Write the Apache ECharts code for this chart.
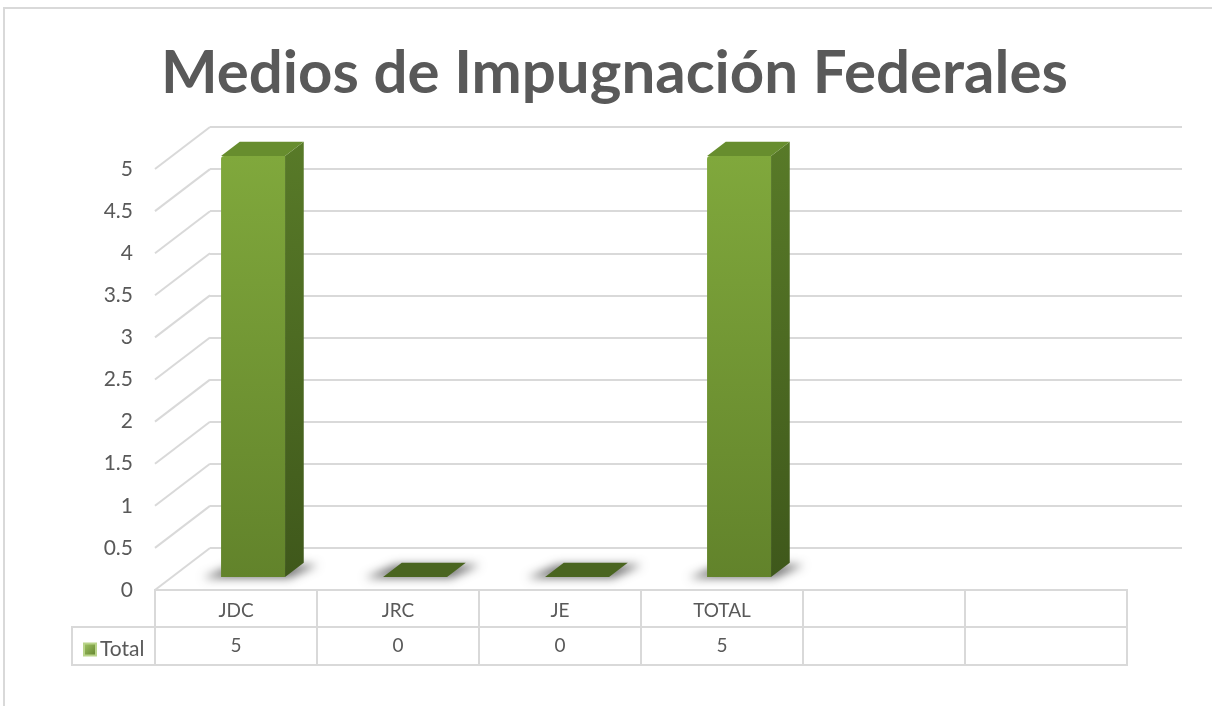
<!DOCTYPE html>
<html>
<head>
<meta charset="utf-8">
<script src="https://cdn.jsdelivr.net/npm/echarts@6/dist/echarts.min.js"></script>
<style>
html,body{margin:0;padding:0;background:#fff;}
#chart{width:1212px;height:706px;}
</style>
</head>
<body>
<div id="chart"></div>
<script>
// ---- data ----
const titleText = 'Medios de Impugnación Federales';
const seriesName = 'Total';
const categories = ['JDC', 'JRC', 'JE', 'TOTAL', '', ''];
const values = [5, 0, 0, 5, null, null];
const tableValues = ['5', '0', '0', '5', '', ''];
const yTicks = [0, 0.5, 1, 1.5, 2, 2.5, 3, 3.5, 4, 4.5, 5];

// ---- style constants ----
const FONT = 'Lato, "Open Sans", sans-serif';
const TXT = '#595959';
const GRID_C = '#d9d9d9';
const DX = 55, DY = 42;        // depth of the 3D box
const F0 = 0.31, F1 = 0.65;    // bar depth range (fraction of box depth)
const BAR_W = 0.395;           // bar width fraction of band
const ROW1 = 37, ROW2 = 38, LEG_W = 83;

const chart = echarts.init(document.getElementById('chart'), null, {renderer: 'canvas'});

function frontGrad() {
  return new echarts.graphic.LinearGradient(0, 0, 0, 1, [
    {offset: 0, color: '#80a83c'}, {offset: 1, color: '#62832b'}]);
}
function sideGrad() {
  return new echarts.graphic.LinearGradient(0, 0, 0, 1, [
    {offset: 0, color: '#587a28'}, {offset: 1, color: '#3f581b'}]);
}

function renderBar(params, api) {
  const i = api.value(0), v = api.value(1);
  const base = api.coord([i, 0]);
  const top = api.coord([i, v]);
  const bw = api.size([1, 0])[0] * BAR_W;
  const ox0 = DX * F0, oy0 = DY * F0;
  const sx = DX * (F1 - F0), sy = DY * (F1 - F0);
  const xl = base[0] - bw / 2 + ox0, xr = xl + bw;
  const yb = base[1] - oy0, yt = top[1] - oy0;
  const children = [];
  const OFF = 4000;
  // soft floor shadow (shape drawn off-canvas, only its blurred shadow shows)
  children.push({
    type: 'polygon',
    shape: {points: [[xl - 18 - OFF, yb + 1], [xl + sx - 6 - OFF, yb - sy + 2], [xr + sx + 14 - OFF, yb - sy + 2], [xr + 4 - OFF, yb + 1]]},
    style: {fill: 'rgba(0,0,0,1)', shadowBlur: 10, shadowColor: 'rgba(0,0,0,0.55)', shadowOffsetX: OFF, shadowOffsetY: 0},
    silent: true
  });
  if (v > 0) {
    children.push({
      type: 'rect',
      shape: {x: xl, y: yt, width: bw, height: yb - yt, r: [3, 0, 0, 0]},
      style: {fill: frontGrad()}
    });
    children.push({
      type: 'polygon',
      shape: {points: [[xr, yt], [xr + sx, yt - sy], [xr + sx, yb - sy], [xr, yb]]},
      style: {fill: sideGrad()}
    });
    children.push({
      type: 'polygon',
      shape: {points: [[xl, yt], [xl + sx, yt - sy], [xr + sx, yt - sy], [xr, yt]]},
      style: {fill: '#678d2e'}
    });
  } else {
    children.push({
      type: 'polygon',
      shape: {points: [[xl, yt], [xl + sx, yt - sy], [xr + sx, yt - sy], [xr, yt]]},
      style: {fill: '#4a6520'}
    });
  }
  return {type: 'group', children: children};
}

function renderSideGrid(params, api) {
  const v = api.value(0);
  const cs = params.coordSys;
  const p = api.coord([0, v]);
  return {
    type: 'line',
    shape: {x1: cs.x, y1: p[1], x2: cs.x + DX, y2: p[1] - DY},
    style: {stroke: GRID_C, lineWidth: 2},
    silent: true
  };
}

function renderTable(params, api) {
  const i = api.value(0);
  const cs = params.coordSys;
  const c = api.coord([i, 0]);
  const band = api.size([1, 0])[0];
  const x0 = c[0] - band / 2;
  const y0 = cs.y + cs.height;
  const children = [
    {type: 'rect', shape: {x: x0, y: y0, width: band, height: ROW1},
      style: {fill: 'none', stroke: GRID_C, lineWidth: 2}},
    {type: 'rect', shape: {x: x0, y: y0 + ROW1, width: band, height: ROW2},
      style: {fill: 'none', stroke: GRID_C, lineWidth: 2}},
    {type: 'text', style: {text: categories[i], x: c[0], y: y0 + ROW1 / 2 + 2,
      align: 'center', verticalAlign: 'middle', fontSize: 19, fontFamily: FONT, fill: TXT}},
    {type: 'text', style: {text: tableValues[i], x: c[0], y: y0 + ROW1 + ROW2 / 2,
      align: 'center', verticalAlign: 'middle', fontSize: 19, fontFamily: FONT, fill: TXT}}
  ];
  if (i === 0) {
    children.push({type: 'rect', shape: {x: cs.x - LEG_W, y: y0 + ROW1, width: LEG_W, height: ROW2},
      style: {fill: 'none', stroke: GRID_C, lineWidth: 2}});
  }
  return {type: 'group', children: children, silent: true};
}

const barData = [];
values.forEach((v, i) => { if (v !== null) barData.push([i, v]); });

const option = {
  backgroundColor: '#ffffff',
  animation: false,
  title: {
    text: titleText, left: 156, top: 39,
    textStyle: {fontSize: 60, fontWeight: 'bold', color: TXT, fontFamily: FONT}
  },
  legend: {
    data: [seriesName], left: 78, top: 634, icon: 'rect', itemWidth: 12, itemHeight: 12,
    itemGap: 4, textStyle: {fontSize: 21, color: TXT, fontFamily: FONT, padding: [0, 0, 0, -1]}
  },
  graphic: [{
    type: 'rect', shape: {x: 4, y: 8, width: 1230, height: 720},
    style: {fill: 'none', stroke: GRID_C, lineWidth: 2}, silent: true, z: -10
  }],
  grid: [
    {left: 155, right: 85, top: 169, bottom: 116},
    {left: 210, right: 30, top: 127, bottom: 158}
  ],
  xAxis: [
    {type: 'category', gridIndex: 0, data: categories, axisLine: {show: false}, axisTick: {show: false}, axisLabel: {show: false}},
    {type: 'category', gridIndex: 1, data: categories, axisLine: {show: false}, axisTick: {show: false}, axisLabel: {show: false}}
  ],
  yAxis: [
    {type: 'value', gridIndex: 0, min: 0, max: 5, interval: 0.5,
      axisLine: {show: false}, axisTick: {show: false}, splitLine: {show: false},
      axisLabel: {fontSize: 21, color: TXT, fontFamily: FONT, margin: 22}},
    {type: 'value', gridIndex: 1, min: 0, max: 5, interval: 0.5,
      axisLine: {show: false}, axisTick: {show: false}, axisLabel: {show: false},
      splitLine: {show: true, lineStyle: {color: GRID_C, width: 2}}}
  ],
  series: [
    {type: 'custom', name: 'sideGrid', xAxisIndex: 0, yAxisIndex: 0, renderItem: renderSideGrid,
      data: yTicks.map(t => [t]), encode: {y: 0}, z: 1, silent: true},
    {type: 'custom', name: seriesName, xAxisIndex: 0, yAxisIndex: 0, renderItem: renderBar,
      data: barData, encode: {x: 0, y: 1}, z: 5,
      itemStyle: {color: new echarts.graphic.LinearGradient(0, 0, 1, 1, [
        {offset: 0, color: '#a6c96a'}, {offset: 1, color: '#5d7e28'}]), borderColor: '#b9d48a', borderWidth: 1}},
    {type: 'custom', name: 'table', xAxisIndex: 0, yAxisIndex: 0, renderItem: renderTable,
      data: categories.map((c, i) => [i]), encode: {x: 0}, z: 3, silent: true}
  ]
};
chart.setOption(option);
</script>
</body>
</html>
